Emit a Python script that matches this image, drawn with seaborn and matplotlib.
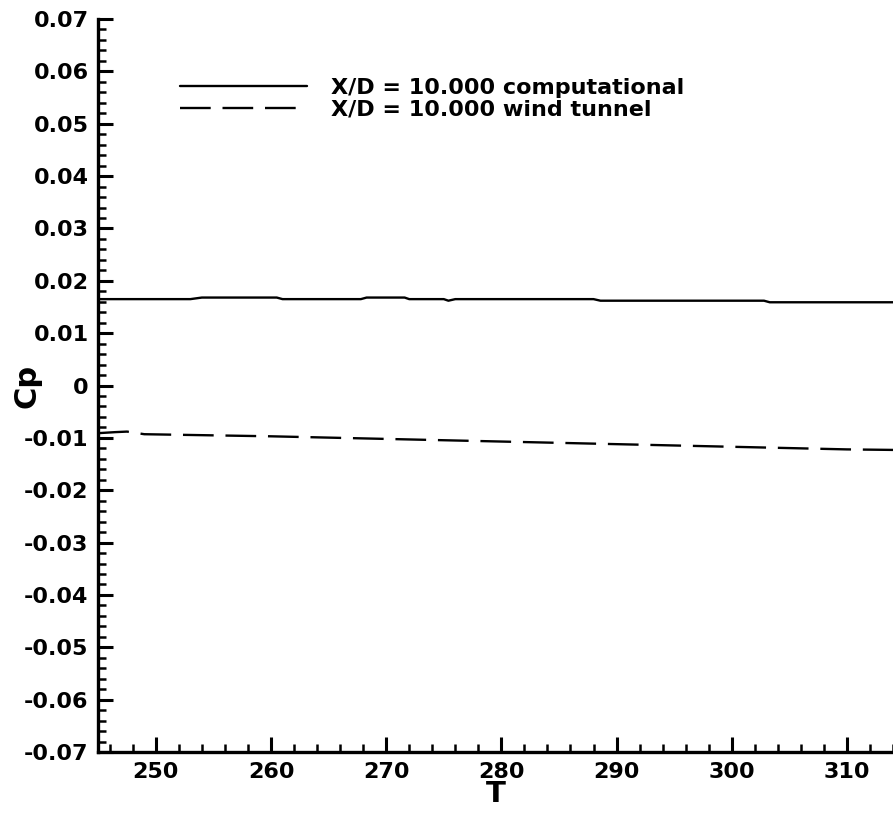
import numpy as np
import pandas as pd
import matplotlib
matplotlib.use("Agg")
import matplotlib.pyplot as plt
from matplotlib.ticker import MultipleLocator, FuncFormatter
import seaborn as sns

# ---- data ----
t_comp = [245, 253, 254, 260.5, 261, 267.8, 268.3, 271.6, 272, 275.0, 275.4, 276,
          288, 288.6, 302.8, 303.3, 314]
cp_comp = [0.0165, 0.0165, 0.0168, 0.0168, 0.0165, 0.0165, 0.0168, 0.0168, 0.0165,
           0.0165, 0.0162, 0.0165, 0.0165, 0.0162, 0.0162, 0.0159, 0.0159]

t_wind = [245, 246.5, 247.5, 249, 260, 270, 280, 290, 300, 310, 314]
cp_wind = [-0.0091, -0.0089, -0.0088, -0.0093, -0.0097, -0.0102, -0.0107,
           -0.0112, -0.0117, -0.0122, -0.0123]

label_comp = "X/D = 10.000 computational"
label_wind = "X/D = 10.000 wind tunnel"

df = pd.concat([
    pd.DataFrame({"T": t_comp, "Cp": cp_comp, "series": label_comp}),
    pd.DataFrame({"T": t_wind, "Cp": cp_wind, "series": label_wind}),
], ignore_index=True)

sns.set_style("ticks")
plt.rcParams["font.family"] = ["DejaVu Sans"]
plt.rcParams["font.weight"] = "bold"
plt.rcParams["axes.unicode_minus"] = False
plt.rcParams["text.color"] = "black"
plt.rcParams["axes.labelcolor"] = "black"

fig = plt.figure(figsize=(8.93, 8.16), dpi=100)
ax = fig.add_axes([0.11, 0.0784, 0.89, 0.8983])

sns.lineplot(data=df, x="T", y="Cp", hue="series", style="series",
             palette={label_comp: "black", label_wind: "black"},
             dashes={label_comp: "", label_wind: (13, 5)},
             linewidth=1.7, sort=False, estimator=None, ax=ax)

ax.set_xlim(245, 314)
ax.set_ylim(-0.07, 0.07)
ax.xaxis.set_major_locator(MultipleLocator(10))
ax.xaxis.set_minor_locator(MultipleLocator(2))
ax.yaxis.set_major_locator(MultipleLocator(0.01))
ax.yaxis.set_minor_locator(MultipleLocator(0.002))

def yfmt(v, pos):
    if abs(v) < 1e-9:
        return "0"
    return f"{v:.2f}"
ax.yaxis.set_major_formatter(FuncFormatter(yfmt))

for side in ["top", "right"]:
    ax.spines[side].set_visible(False)
for side in ["left", "bottom"]:
    ax.spines[side].set_linewidth(2.4)
    ax.spines[side].set_color("black")

ax.tick_params(which="major", direction="in", length=11, width=2.2,
               labelsize=16, pad=7, colors="black")
ax.tick_params(which="minor", direction="in", length=6, width=1.8, colors="black")
for lab in ax.get_xticklabels() + ax.get_yticklabels():
    lab.set_fontweight("bold")

ax.set_xlabel("T", fontsize=21, fontweight="bold", labelpad=-1)
ax.set_ylabel("Cp", fontsize=22, fontweight="bold")
ax.yaxis.set_label_coords(-0.071, 0.5)

leg = ax.legend(loc="upper left", bbox_to_anchor=(0.103, 0.92), frameon=False,
                handlelength=5.7, handletextpad=1.1, labelspacing=0.1,
                borderaxespad=0.0, borderpad=0.0,
                prop={"weight": "bold", "size": 16})
for h in leg.get_lines():
    h.set_linewidth(1.7)
for txt in leg.get_texts():
    txt.set_color("black")

fig.savefig("out.png", dpi=100)
